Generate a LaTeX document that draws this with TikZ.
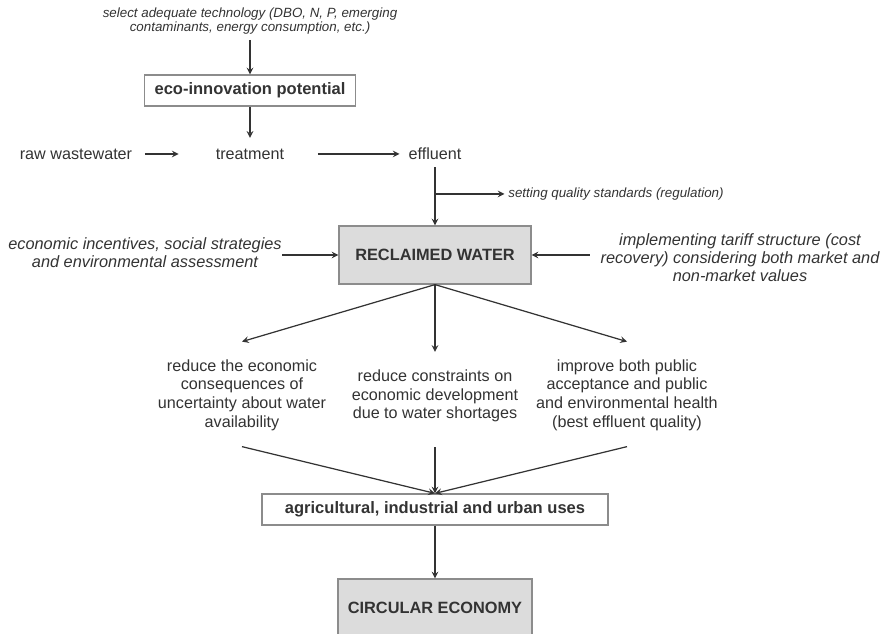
\documentclass[tikz,border=0pt]{standalone}
\usepackage{fontspec}
\setmainfont{Liberation Sans}
\usetikzlibrary{arrows,positioning}

\definecolor{ink}{HTML}{333333}
\definecolor{boxline}{HTML}{8C8C8C}
\definecolor{boxfill}{HTML}{DCDCDC}

\tikzset{
  txt/.style={inner sep=0pt, align=center, text=ink, font=\fontsize{9.2}{10.6}\selectfont},
  note/.style={inner sep=0pt, align=center, text=ink, font=\fontsize{9.3}{10.2}\selectfont\itshape},
  small/.style={inner sep=0pt, align=center, text=ink, font=\fontsize{7.6}{6.9}\selectfont\itshape},
  whitebox/.style={draw=boxline, line width=0.7pt, fill=white, inner sep=0pt, text=ink, font=\fontsize{9.4}{10}\selectfont\bfseries},
  greybox/.style={whitebox, fill=boxfill, font=\fontsize{9.3}{10}\selectfont\bfseries},
  link/.style={draw=ink, line width=0.7pt, arrows={-stealth}},
}

\begin{document}
\begin{tikzpicture}[x=0.02cm, y=-0.02cm]
\useasboundingbox (0, 0) rectangle (882, 634);

% top: technology choice
\node [small] (sel) at (250, 21) {select adequate technology (DBO, N, P, emerging\\contaminants, energy consumption, etc.)};
\node [whitebox, minimum width=4.22cm, minimum height=0.62cm] (eco) at (250, 90.5) {eco-innovation potential};

% treatment line
\node [txt] (raw) at (76, 154) {raw wastewater};
\node [txt] (treat) at (250, 154) {treatment};
\node [txt] (eff) at (435, 154) {effluent};
\coordinate (reg) at (435, 194);
\node [small, anchor=west] (qual) at (508, 194) {setting quality standards (regulation)};

% reclaimed water and its drivers
\node [greybox, minimum width=3.84cm, minimum height=1.16cm] (rw) at (435, 255) {RECLAIMED WATER};
\node [note] (econ) at (145, 253) {economic incentives, social strategies\\and environmental assessment};
\node [note] (tariff) at (740, 258) {implementing tariff structure (cost\\recovery) considering both market and\\non-market values};

% outcomes
\node [txt] (outa) at (242, 395) {reduce the economic\\consequences of\\uncertainty about water\\availability};
\node [txt] (outb) at (435, 396) {reduce constraints on\\economic development\\due to water shortages};
\node [txt] (outc) at (627, 395) {improve both public\\acceptance and public\\and environmental health\\(best effluent quality)};

% uses and circular economy
\node [whitebox, minimum width=6.92cm, minimum height=0.62cm] (agr) at (435, 509.5) {agricultural, industrial and urban uses};
\node [greybox, minimum width=3.88cm, minimum height=1.16cm] (ce) at (435, 608) {CIRCULAR ECONOMY};

% connectors
\draw [link, shorten <=3pt] (sel) -- (eco);
\draw [link, shorten >=6pt] (eco) -- (treat);
\draw [link, shorten <=7pt, shorten >=21pt] (raw) -- (treat);
\draw [link, shorten <=19pt, shorten >=5pt] (treat) -- (eff);
\draw [link, shorten <=4pt] (eff) -- (rw);
\draw [link, shorten >=2pt] (reg) -- (reg -| qual.west);
\draw [link] (econ.east |- rw) -- (rw.west);
\draw [link, shorten <=6pt] (tariff.west |- rw) -- (rw.east);

\draw [link] (rw.south) -- ([yshift=10pt]outa.north);
\draw [link] (rw.south) -- ([yshift=10pt]outb.north);
\draw [link] (rw.south) -- ([yshift=10pt]outc.north);

\draw [link] ([yshift=-9pt]outa.south) -- (agr.north);
\draw [link] ([yshift=-14pt]outb.south) -- (agr.north);
\draw [link] ([yshift=-9pt]outc.south) -- (agr.north);
\draw [link] (agr) -- (ce);
\end{tikzpicture}
\end{document}
